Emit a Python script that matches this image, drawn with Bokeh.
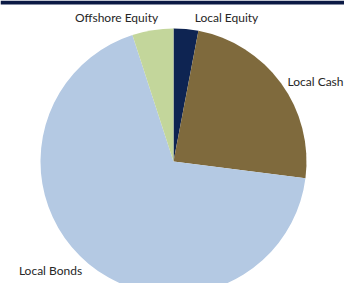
import math
from bokeh.plotting import figure
from bokeh.models import ColumnDataSource, Range1d
from bokeh.core.properties import value
from bokeh.embed import file_html
from bokeh.resources import INLINE

categories = ["Local Equity", "Local Cash", "Local Bonds", "Offshore Equity"]
shares = [3.0, 24.0, 68.0, 5.0]
colors = ["#0e2452", "#7f6a3d", "#b4c9e3", "#c3d69b"]

total = sum(shares)
starts, ends = [], []
cum = 0.0
for s in shares:
    starts.append(math.pi / 2 - cum / total * 2 * math.pi)
    cum += s
    ends.append(math.pi / 2 - cum / total * 2 * math.pi)

W, H = 344, 283
p = figure(width=W, height=H, output_backend="svg", toolbar_location=None,
           x_range=Range1d(0, W), y_range=Range1d(0, H),
           min_border=0, outline_line_color=None)
p.axis.visible = False
p.grid.visible = False
p.background_fill_color = "white"
p.border_fill_color = "white"

# top navy band
p.quad(left=[0], right=[W], bottom=[H - 4], top=[H], fill_color="#0b1a44", line_color=None)

src = ColumnDataSource(dict(cat=categories, start=starts, end=ends, color=colors))
p.wedge(x=173, y=H - 161, radius=133, start_angle="start", end_angle="end",
        direction="clock", fill_color="color", line_color=None, source=src)

lab_src = ColumnDataSource(dict(
    x=[226, 343, 50, 116],
    y=[H - 17, H - 81, H - 270, H - 17],
    text=categories,
    align=["center", "right", "center", "center"],
))
p.text(x="x", y="y", text="text", text_align="align", source=lab_src,
       text_font=value("Lato"), text_font_size="12px", text_color="#262626",
       text_baseline="middle")

open("out.html", "w").write(file_html(p, INLINE))
